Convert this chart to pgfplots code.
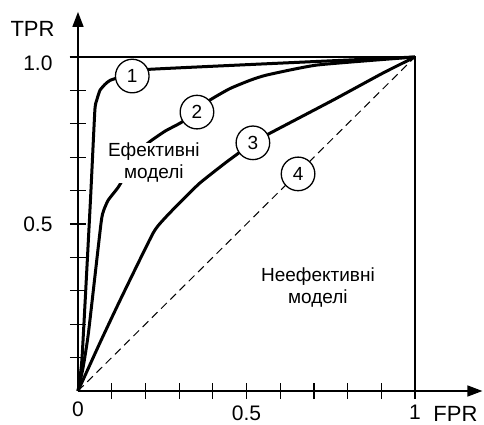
\documentclass[border=0pt]{standalone}
\usepackage{fontspec}
\setmainfont{Liberation Sans}
\usepackage{pgfplots}
\pgfplotsset{compat=1.18}
\usetikzlibrary{arrows.meta}
\begin{document}
\begin{tikzpicture}
\begin{axis}[
  at={(0,0)}, anchor=origin,
  x=337pt, y=334pt,
  xmin=0, xmax=1.20, ymin=0, ymax=1.135,
  axis lines=left,
  axis line style={line width=1.5pt},
  x axis line style={-{Triangle[length=15pt,width=11pt]}},
  y axis line style={-{Triangle[length=15pt,width=11pt]}},
  xtick={0.1,0.2,0.3,0.4,0.5,0.6,0.7,0.8,0.9,1},
  xticklabels={,,,,0.5,,,,,1},
  xticklabel style={yshift=-3pt},
  extra x ticks={0}, extra x tick labels={0},
  extra x tick style={major tick length=0pt, xticklabel style={yshift=-4pt}},
  ytick={0.1,0.2,0.3,0.4,0.5,0.6,0.7,0.8,0.9},
  yticklabels={,,,,0.5,,,,},
  yticklabel style={xshift=-14pt},
  extra y ticks={1}, extra y tick labels={1.0},
  extra y tick style={yticklabel style={yshift=-6pt}},
  tick align=center, major tick length=16pt,
  tick style={line width=1.2pt, black},
  ticklabel style={font=\fontsize{21}{24}\selectfont},
  clip=false,
]
% frame
\addplot[line width=1.3pt] coordinates {(-0.025,1) (1,1) (1,0)};
% curve 4 (random)
\addplot[line width=1pt, dash pattern=on 8pt off 5pt] coordinates {(0,0) (1,1)};
% curve 2
\addplot[line width=3pt, smooth, tension=0.3] coordinates {
(0,0) (0.015,0.07) (0.031,0.174) (0.068,0.50) (0.076,0.54) (0.09,0.572) (0.12,0.611) (0.16,0.68) (0.20,0.735) (0.219,0.751) (0.26,0.779) (0.303,0.802) (0.353,0.835) (0.39,0.87) (0.45,0.905) (0.51,0.93) (0.56,0.946) (0.71,0.976) (1,1)};
% curve 1
\addplot[line width=3pt, smooth, tension=0.3] coordinates {
(0,0) (0.012,0.1) (0.037,0.572) (0.05,0.84) (0.056,0.872) (0.065,0.90) (0.08,0.918) (0.095,0.93) (0.13,0.942) (0.161,0.950) (0.21,0.963) (1,1)};
\node[fill=white, inner sep=0.5pt, align=center, font=\fontsize{19}{22}\selectfont] at (axis cs:0.225,0.683) {Ефективні\\моделі};
% curve 3
\addplot[line width=3pt, smooth, tension=0.3] coordinates {
(0,0) (0.065,0.144) (0.125,0.272) (0.223,0.473) (0.26,0.52) (0.31,0.572) (0.362,0.623) (0.44,0.685) (0.519,0.743) (0.57,0.772) (0.757,0.871) (0.905,0.952) (1,1)};
\node[align=center, font=\fontsize{19}{22}\selectfont] at (axis cs:0.712,0.311) {Неефективні\\моделі};
\node[font=\fontsize{22}{24}\selectfont, inner sep=0pt] at (axis cs:-0.135,1.085) {TPR};
\node[font=\fontsize{22}{24}\selectfont, inner sep=0pt] at (axis cs:1.120,-0.068) {FPR};
% circled labels
\addplot[only marks, mark=*, mark size=16.8pt,
  mark options={fill=white, draw=black, line width=1.3pt},
  nodes near coords, point meta=explicit symbolic,
  nodes near coords style={anchor=center, font=\fontsize{19}{20}\selectfont}]
  coordinates {(0.161,0.943)[1] (0.353,0.835)[2] (0.519,0.743)[3] (0.653,0.650)[4]};
\end{axis}
\pgfresetboundingbox
\path (-78pt,-34pt) rectangle (406pt,391pt);
\end{tikzpicture}
\end{document}
